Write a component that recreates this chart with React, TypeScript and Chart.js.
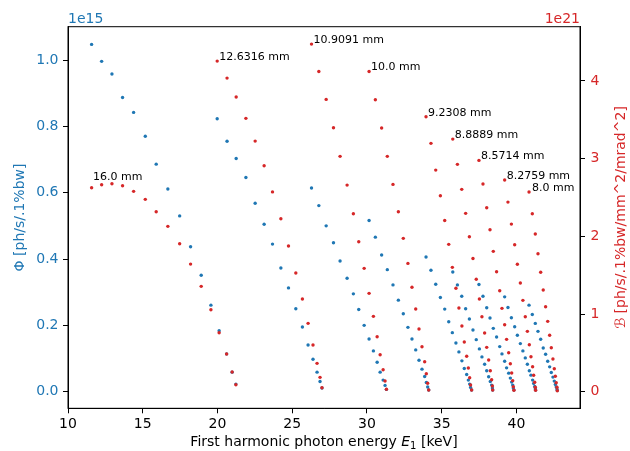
import { useEffect, useRef } from "react";
import { Chart, registerables } from "chart.js";

Chart.register(...registerables);

const BLUE = "#1f77b4";
const RED = "#d62728";
const FONT = "DejaVu Sans";

const periods = ["16.0", "12.6316", "10.9091", "10.0", "9.2308", "8.8889", "8.5714", "8.2759", "8.0"];

const energy_16_0 = [11.58, 12.25, 12.94, 13.65, 14.39, 15.17, 15.9, 16.68, 17.47, 18.2, 18.91, 19.56, 20.11, 20.61, 20.98, 21.23];
const flux_16_0 = [1.047, 0.996, 0.958, 0.887, 0.842, 0.77, 0.686, 0.611, 0.53, 0.437, 0.351, 0.261, 0.184, 0.114, 0.059, 0.023];
const bril_16_0 = [2.625, 2.664, 2.677, 2.651, 2.579, 2.476, 2.317, 2.129, 1.905, 1.643, 1.356, 1.055, 0.759, 0.485, 0.254, 0.09];

const energy_12_6316 = [19.98, 20.64, 21.25, 21.9, 22.52, 23.12, 23.68, 24.24, 24.75, 25.24, 25.68, 26.06, 26.39, 26.66, 26.86, 26.99];
const flux_12_6316 = [0.823, 0.755, 0.703, 0.646, 0.568, 0.505, 0.445, 0.373, 0.313, 0.25, 0.195, 0.141, 0.098, 0.059, 0.031, 0.011];
const bril_12_6316 = [4.256, 4.037, 3.793, 3.519, 3.226, 2.909, 2.572, 2.227, 1.875, 1.528, 1.193, 0.88, 0.601, 0.365, 0.185, 0.051];

const energy_10_9091 = [26.29, 26.78, 27.27, 27.76, 28.2, 28.67, 29.09, 29.45, 29.81, 30.14, 30.43, 30.68, 30.88, 31.08, 31.21, 31.3];
const flux_10_9091 = [0.614, 0.561, 0.5, 0.449, 0.394, 0.342, 0.295, 0.248, 0.2, 0.159, 0.123, 0.089, 0.059, 0.035, 0.019, 0.007];
const bril_10_9091 = [4.475, 4.123, 3.763, 3.398, 3.03, 2.66, 2.291, 1.931, 1.588, 1.266, 0.97, 0.708, 0.476, 0.283, 0.138, 0.031];

const energy_10_0 = [30.14, 30.56, 30.98, 31.36, 31.74, 32.1, 32.43, 32.74, 33.01, 33.26, 33.48, 33.68, 33.86, 33.97, 34.06, 34.13];
const flux_10_0 = [0.516, 0.466, 0.412, 0.368, 0.322, 0.276, 0.235, 0.194, 0.159, 0.126, 0.095, 0.068, 0.046, 0.028, 0.014, 0.005];
const bril_10_0 = [4.123, 3.758, 3.394, 3.03, 2.669, 2.317, 1.974, 1.652, 1.344, 1.064, 0.807, 0.579, 0.386, 0.232, 0.108, 0.022];

const energy_9_2308 = [33.95, 34.28, 34.6, 34.91, 35.2, 35.47, 35.71, 35.95, 36.15, 36.35, 36.51, 36.67, 36.78, 36.87, 36.93, 37.0];
const flux_9_2308 = [0.406, 0.366, 0.324, 0.284, 0.249, 0.211, 0.178, 0.147, 0.12, 0.093, 0.07, 0.052, 0.035, 0.023, 0.013, 0.005];
const bril_9_2308 = [3.539, 3.197, 2.853, 2.523, 2.204, 1.897, 1.601, 1.331, 1.077, 0.846, 0.64, 0.456, 0.305, 0.18, 0.086, 0.022];

const energy_8_8889 = [35.74, 36.05, 36.34, 36.6, 36.85, 37.09, 37.31, 37.52, 37.69, 37.87, 38.01, 38.14, 38.25, 38.34, 38.39, 38.41];
const flux_8_8889 = [0.361, 0.322, 0.288, 0.25, 0.219, 0.186, 0.157, 0.129, 0.105, 0.083, 0.063, 0.045, 0.031, 0.02, 0.011, 0.005];
const bril_8_8889 = [3.252, 2.927, 2.605, 2.296, 1.995, 1.714, 1.447, 1.193, 0.965, 0.755, 0.571, 0.408, 0.27, 0.154, 0.073, 0.022];

const energy_8_5714 = [37.49, 37.76, 38.01, 38.23, 38.45, 38.67, 38.88, 39.03, 39.21, 39.34, 39.48, 39.59, 39.68, 39.75, 39.79, 39.83];
const flux_8_5714 = [0.323, 0.288, 0.253, 0.222, 0.191, 0.165, 0.136, 0.114, 0.092, 0.072, 0.056, 0.041, 0.029, 0.02, 0.011, 0.005];
const bril_8_5714 = [2.978, 2.673, 2.368, 2.085, 1.807, 1.544, 1.3, 1.073, 0.862, 0.674, 0.502, 0.36, 0.241, 0.142, 0.064, 0.018];

const energy_8_2759 = [39.21, 39.43, 39.66, 39.88, 40.06, 40.26, 40.43, 40.59, 40.73, 40.86, 40.97, 41.08, 41.15, 41.22, 41.26, 41.28];
const flux_8_2759 = [0.286, 0.254, 0.223, 0.196, 0.17, 0.145, 0.123, 0.102, 0.083, 0.063, 0.05, 0.035, 0.025, 0.016, 0.008, 0.005];
const bril_8_2759 = [2.725, 2.441, 2.158, 1.892, 1.64, 1.399, 1.176, 0.965, 0.777, 0.605, 0.45, 0.322, 0.211, 0.121, 0.057, 0.018];

const energy_8_0 = [40.84, 41.06, 41.26, 41.44, 41.62, 41.79, 41.95, 42.09, 42.22, 42.33, 42.44, 42.53, 42.6, 42.66, 42.71, 42.73];
const flux_8_0 = [0.261, 0.233, 0.206, 0.182, 0.158, 0.132, 0.113, 0.092, 0.075, 0.058, 0.044, 0.032, 0.022, 0.014, 0.008, 0.004];
const bril_8_0 = [2.57, 2.291, 2.03, 1.776, 1.537, 1.309, 1.094, 0.906, 0.726, 0.566, 0.421, 0.296, 0.198, 0.116, 0.057, 0.013];

const xTicks = [10, 15, 20, 25, 30, 35, 40];
const fluxTicks = [0, 0.2, 0.4, 0.6, 0.8, 1.0];
const brilTicks = [0, 1, 2, 3, 4];

const energies = [energy_16_0, energy_12_6316, energy_10_9091, energy_10_0, energy_9_2308, energy_8_8889, energy_8_5714, energy_8_2759, energy_8_0];
const fluxes = [flux_16_0, flux_12_6316, flux_10_9091, flux_10_0, flux_9_2308, flux_8_8889, flux_8_5714, flux_8_2759, flux_8_0];
const brils = [bril_16_0, bril_12_6316, bril_10_9091, bril_10_0, bril_9_2308, bril_8_8889, bril_8_5714, bril_8_2759, bril_8_0];

// label pixel offsets (style only)
const labelDx = [1.5, 2, 2, 2, 2, 2, 2, 2, 3];
const labelDy = [-7.5, -1.3, -1.3, -1.3, -1.3, -1.3, -1.3, -1.3, -1.3];

const decor = {
  id: "decor",
  afterDraw(chart: any) {
    const ctx = chart.ctx as CanvasRenderingContext2D;
    const a = chart.chartArea;
    const xs = chart.scales.x;
    const yR = chart.scales.yR;
    ctx.save();
    ctx.strokeStyle = "#000";
    ctx.lineWidth = 1;
    ctx.strokeRect(a.left, a.top, a.right - a.left, a.bottom - a.top);

    ctx.font = `14px "${FONT}"`;
    ctx.textBaseline = "alphabetic";
    ctx.fillStyle = BLUE;
    ctx.textAlign = "left";
    ctx.fillText("1e15", a.left, a.top - 3.5);
    ctx.fillStyle = RED;
    ctx.textAlign = "right";
    ctx.fillText("1e21", a.right, a.top - 3.5);

    // x title with italic E and subscript 1
    const p1 = "First harmonic photon energy ";
    const p2 = "E";
    const p3 = "1";
    const p4 = " [keV]";
    const fNorm = `14px "${FONT}"`;
    const fIt = `italic 14px "${FONT}"`;
    const fSub = `10px "${FONT}"`;
    ctx.font = fNorm;
    const w1 = ctx.measureText(p1).width;
    const w4 = ctx.measureText(p4).width;
    ctx.font = fIt;
    const w2 = ctx.measureText(p2).width;
    ctx.font = fSub;
    const w3 = ctx.measureText(p3).width;
    const total = w1 + w2 + w3 + w4;
    let cx = (a.left + a.right) / 2 - total / 2;
    const by = 446;
    ctx.fillStyle = "#000";
    ctx.textAlign = "left";
    ctx.font = fNorm;
    ctx.fillText(p1, cx, by);
    cx += w1;
    ctx.font = fIt;
    ctx.fillText(p2, cx, by);
    cx += w2;
    ctx.font = fSub;
    ctx.fillText(p3, cx, by + 3);
    cx += w3;
    ctx.font = fNorm;
    ctx.fillText(p4, cx, by);

    // y titles
    const cy = (a.top + a.bottom) / 2;
    ctx.save();
    ctx.translate(20, cy);
    ctx.rotate(-Math.PI / 2);
    ctx.textAlign = "center";
    ctx.textBaseline = "middle";
    ctx.fillStyle = BLUE;
    ctx.font = fNorm;
    ctx.fillText("Φ [ph/s/.1%bw]", 0, 0);
    ctx.restore();

    ctx.save();
    ctx.translate(621, cy);
    ctx.rotate(-Math.PI / 2);
    ctx.textAlign = "center";
    ctx.textBaseline = "middle";
    ctx.fillStyle = RED;
    ctx.font = fNorm;
    ctx.fillText("ℬ [ph/s/.1%bw/mm^2/mrad^2]", 0, 0);
    ctx.restore();

    // annotations
    ctx.font = `11px "${FONT}"`;
    ctx.fillStyle = "#000";
    ctx.textAlign = "left";
    ctx.textBaseline = "alphabetic";
    periods.forEach((p, i) => {
      const px = xs.getPixelForValue(energies[i][0]);
      const py = yR.getPixelForValue(brils[i][0]);
      ctx.fillText(`${p} mm`, px + labelDx[i], py + labelDy[i]);
    });
    ctx.restore();
  },
};

export default function App() {
  const ref = useRef<HTMLCanvasElement | null>(null);
  useEffect(() => {
    if (!ref.current) return;
    const datasets: any[] = [];
    periods.forEach((p, i) => {
      datasets.push({
        label: `flux ${p}`,
        data: energies[i].map((e, k) => ({ x: e, y: fluxes[i][k] })),
        yAxisID: "y",
        backgroundColor: BLUE,
        borderColor: BLUE,
        pointRadius: 1.7,
        borderWidth: 0,
        showLine: false,
        order: 2,
      });
    });
    periods.forEach((p, i) => {
      datasets.push({
        label: `bril ${p}`,
        data: energies[i].map((e, k) => ({ x: e, y: brils[i][k] })),
        yAxisID: "yR",
        backgroundColor: RED,
        borderColor: RED,
        pointRadius: 1.7,
        borderWidth: 0,
        showLine: false,
        order: 1,
      });
    });
    const tickFont = { family: FONT, size: 14 };
    const chart = new Chart(ref.current, {
      type: "scatter",
      data: { datasets },
      plugins: [decor],
      options: {
        responsive: false,
        animation: false,
        devicePixelRatio: 1,
        layout: { padding: { top: 26.7, left: 0, right: 0, bottom: 0 } },
        plugins: { legend: { display: false }, tooltip: { enabled: false } },
        scales: {
          x: {
            type: "linear",
            position: "bottom",
            min: 10,
            max: 44.25,
            afterBuildTicks: (s: any) => {
              s.ticks = xTicks.map((v) => ({ value: v }));
            },
            afterFit: (s: any) => {
              s.height = 451 - 408.3;
            },
            ticks: { font: tickFont, color: "#000", padding: 3, maxRotation: 0, callback: (v: any) => String(v) },
            grid: { display: true, drawOnChartArea: false, drawTicks: true, tickLength: 5, tickColor: "#000", tickWidth: 1 },
            border: { display: true, color: "#000", width: 1 },
          },
          y: {
            type: "linear",
            position: "left",
            min: -0.05,
            max: 1.1004,
            afterBuildTicks: (s: any) => {
              s.ticks = fluxTicks.map((v) => ({ value: v }));
            },
            afterFit: (s: any) => {
              s.width = 68;
            },
            ticks: { font: tickFont, color: BLUE, padding: 4.5, callback: (v: any) => Number(v).toFixed(1) },
            grid: { display: true, drawOnChartArea: false, drawTicks: true, tickLength: 5, tickColor: "#000", tickWidth: 1 },
            border: { display: true, color: "#000", width: 1 },
          },
          yR: {
            type: "linear",
            position: "right",
            min: -0.2137,
            max: 4.699,
            afterBuildTicks: (s: any) => {
              s.ticks = brilTicks.map((v) => ({ value: v }));
            },
            afterFit: (s: any) => {
              s.width = 50;
            },
            ticks: { font: tickFont, color: RED, padding: 5.5, callback: (v: any) => String(v) },
            grid: { display: true, drawOnChartArea: false, drawTicks: true, tickLength: 5, tickColor: "#000", tickWidth: 1 },
            border: { display: true, color: "#000", width: 1 },
          },
        },
      },
    });
    return () => chart.destroy();
  }, []);
  return (
    <div style={{ position: "absolute", left: 0, top: 0, width: 630, height: 451, background: "#fff" }}>
      <canvas ref={ref} width={630} height={451} style={{ display: "block" }} />
    </div>
  );
}
